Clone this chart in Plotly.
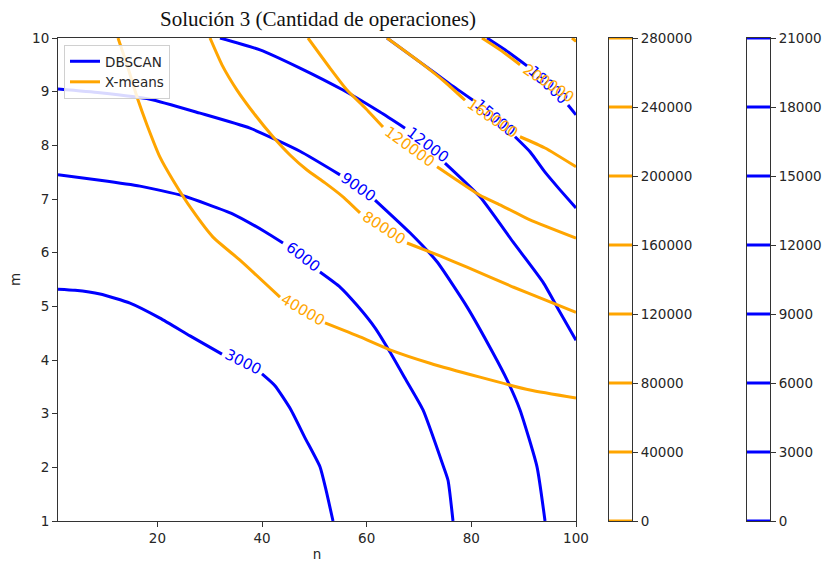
import plotly.graph_objects as go

# ---------------- data ----------------
DBSCAN_LEVELS = [3000, 6000, 9000, 12000, 15000, 18000]
XMEANS_LEVELS = [40000, 80000, 120000, 160000, 200000, 240000]
DBSCAN_CBAR_TICKS = [0, 3000, 6000, 9000, 12000, 15000, 18000, 21000]
XMEANS_CBAR_TICKS = [0, 40000, 80000, 120000, 160000, 200000, 240000, 280000]

# DBSCAN contour lines (n, m); None marks the gap left for the inline label
DB3000_N = [1, 4.25, 9.03, 14.76, 20.49, 26.23, 32.34, None, 39.99, 42.47, 45.53, 48.21, 51.07, 52.22, 53.56]
DB3000_M = [5.32, 5.30, 5.23, 5.06, 4.78, 4.45, 4.11, None, 3.74, 3.52, 3.07, 2.55, 2.01, 1.58, 1.0]
DB6000_N = [1, 9.03, 16.67, 24.89, 34.45, 40.56, 44.00, None, 51.07, 54.90, 58.15, 61.59, 64.45, 67.32, 70.76, 74.58, 75.54, 76.49]
DB6000_M = [7.45, 7.35, 7.24, 7.06, 6.72, 6.39, 6.18, None, 5.64, 5.36, 5.02, 4.60, 4.15, 3.66, 3.07, 2.04, 1.76, 1.0]
DB9000_N = [1, 9.03, 18.58, 28.14, 37.70, 47.25, 54.90, None, 61.59, 68.27, 73.44, 79.17, 84.14, 86.81, 89.30, 92.55, 94.08]
DB9000_M = [9.05, 8.98, 8.86, 8.60, 8.32, 7.89, 7.45, None, 6.98, 6.37, 5.83, 4.99, 4.13, 3.63, 3.07, 2.01, 1.0]
DB12000_N = [31.96, 39.61, 47.25, 55.47, 62.54, 67.32, None, 74.96, 81.65, 87.96, 93.69, 96.94, 100]
DB12000_M = [10.0, 9.78, 9.44, 9.03, 8.62, 8.32, None, 7.67, 7.04, 6.20, 5.45, 4.89, 4.37]
DB15000_N = [63.88, 70.19, 75.92, 80.31, None, 88.34, 91.21, 94.08, 96.94, 100]
DB15000_M = [10.0, 9.55, 9.14, 8.84, None, 8.16, 7.88, 7.50, 7.17, 6.83]
DB18000_N = [82.99, 86.43, 90.64, None, 98.47, 100]
DB18000_M = [10.0, 9.78, 9.48, None, 8.75, 8.57]

# X-means contour lines (n, m)
XM40000_N = [12.47, 14.19, 16.10, 18.01, 20.49, 22.98, 26.61, 30.62, 35.78, 43.43, None, 52.03, 58.72, 64.45, 72.10, 81.65, 91.21, 100]
XM40000_M = [10.0, 9.50, 8.90, 8.38, 7.78, 7.35, 6.80, 6.29, 5.86, 5.17, None, 4.69, 4.43, 4.19, 3.94, 3.68, 3.44, 3.29]
XM80000_N = [30.05, 32.34, 35.21, 38.65, 42.09, 45.34, 48.59, 52.03, 55.47, 58.72, None, 67.70, 74.01, 79.17, 87.96, 94.08, 100]
XM80000_M = [10.0, 9.50, 9.03, 8.57, 8.16, 7.82, 7.54, 7.30, 7.04, 6.74, None, 6.18, 5.94, 5.73, 5.36, 5.12, 4.89]
XM120000_N = [48.78, 52.98, 56.23, 59.67, 63.11, None, 73.44, 77.26, 81.65, 85.48, 91.21, 100]
XM120000_M = [10.0, 9.44, 9.03, 8.70, 8.34, None, 7.60, 7.35, 7.07, 6.89, 6.61, 6.27]
XM160000_N = [63.88, 70.19, 74.96, 78.79, None, 89.30, 94.08, 100]
XM160000_M = [10.0, 9.55, 9.18, 8.84, None, 8.16, 7.95, 7.60]
XM200000_N = [82.03, 85.48, 89.30]
XM200000_M = [10.0, 9.78, 9.50]
XM240000_N = [99.24, 100]
XM240000_M = [10.0, 9.94]

# inline label anchor points (n, m) and their rotation (deg)
DB_LABEL_N = [36.36, 47.82, 58.34, 71.71, 84.52, 94.65]
DB_LABEL_M = [3.96, 5.92, 7.22, 8.01, 8.51, 9.12]
DB_LABEL_ANGLE = [27, 38, 35, 37, 41, 43]
XM_LABEL_N = [47.82, 63.30, 68.27, 83.95, 94.65]
XM_LABEL_M = [4.93, 6.46, 7.97, 8.51, 9.16]
XM_LABEL_ANGLE = [30, 33, 36, 34, 33]

# ---------------- styling ----------------
W, H = 830, 565
BLUE = "#0000ff"
ORANGE = "#ffa500"
AX = "#333333"
FONT = "DejaVu Sans"


def fx(px):
    return px / W


def fy(py):
    return 1 - py / H


fig = go.Figure()

db_lines = [(DB3000_N, DB3000_M), (DB6000_N, DB6000_M), (DB9000_N, DB9000_M),
            (DB12000_N, DB12000_M), (DB15000_N, DB15000_M), (DB18000_N, DB18000_M)]
xm_lines = [(XM40000_N, XM40000_M), (XM80000_N, XM80000_M), (XM120000_N, XM120000_M),
            (XM160000_N, XM160000_M), (XM200000_N, XM200000_M), (XM240000_N, XM240000_M)]

for i, (ns, ms) in enumerate(db_lines):
    fig.add_trace(go.Scatter(x=ns, y=ms, mode="lines", connectgaps=False,
                             line=dict(color=BLUE, width=3, shape="spline", smoothing=0.5),
                             name="DBSCAN", legendgroup="db", showlegend=(i == 0),
                             hoverinfo="skip"))
for i, (ns, ms) in enumerate(xm_lines):
    fig.add_trace(go.Scatter(x=ns, y=ms, mode="lines", connectgaps=False,
                             line=dict(color=ORANGE, width=3, shape="spline", smoothing=0.5),
                             name="X-means", legendgroup="xm", showlegend=(i == 0),
                             hoverinfo="skip"))

annotations = []
for lvl, n, m, a in zip(DBSCAN_LEVELS, DB_LABEL_N, DB_LABEL_M, DB_LABEL_ANGLE):
    annotations.append(dict(x=n, y=m, xref="x", yref="y", text=str(lvl), showarrow=False,
                            textangle=a, font=dict(family=FONT, size=15, color=BLUE)))
for lvl, n, m, a in zip(XMEANS_LEVELS, XM_LABEL_N, XM_LABEL_M, XM_LABEL_ANGLE):
    annotations.append(dict(x=n, y=m, xref="x", yref="y", text=str(lvl), showarrow=False,
                            textangle=a, font=dict(family=FONT, size=15, color=ORANGE)))


# colorbar-like axes with level lines
def bar_lines(levels):
    xs, ys = [], []
    for l in levels:
        xs += [0, 1, None]
        ys += [l, l, None]
    return xs, ys


xs, ys = bar_lines(XMEANS_CBAR_TICKS)
fig.add_trace(go.Scatter(x=xs, y=ys, mode="lines", line=dict(color=ORANGE, width=3),
                         xaxis="x2", yaxis="y2", showlegend=False, hoverinfo="skip"))
xs, ys = bar_lines(DBSCAN_CBAR_TICKS)
fig.add_trace(go.Scatter(x=xs, y=ys, mode="lines", line=dict(color=BLUE, width=3),
                         xaxis="x3", yaxis="y3", showlegend=False, hoverinfo="skip"))

tickfont = dict(family=FONT, size=13.5, color="#262626")
common_ax = dict(showline=True, linecolor=AX, linewidth=1, mirror=True, ticks="outside",
                 ticklen=5, tickwidth=1, tickcolor=AX, showgrid=False, zeroline=False,
                 tickfont=tickfont, automargin=False)

Y_DOM = [fy(521), fy(38)]

fig.update_layout(
    width=W, height=H,
    margin=dict(l=0, r=0, t=0, b=0),
    paper_bgcolor="white", plot_bgcolor="white",
    font=dict(family=FONT, color="#262626"),
    title=dict(text="Solución 3 (Cantidad de operaciones)", x=fx(318), y=fy(19),
               xanchor="center", yanchor="middle", xref="paper", yref="paper",
               font=dict(family="Liberation Serif", size=21, color="#111111")),
    xaxis=dict(domain=[fx(58), fx(576)], range=[1, 100], tickvals=[20, 40, 60, 80, 100],
               title=dict(text="n", standoff=4, font=dict(family=FONT, size=13.5)), **common_ax),
    yaxis=dict(domain=Y_DOM, range=[1, 10], tickvals=list(range(1, 11)),
               title=dict(text="m", standoff=8, font=dict(family=FONT, size=13.5)), **common_ax),
    xaxis2=dict(domain=[fx(609), fx(632)], range=[0, 1], anchor="y2", showticklabels=False,
                showline=True, linecolor=AX, linewidth=1, mirror=True, ticks="",
                showgrid=False, zeroline=False),
    yaxis2=dict(domain=Y_DOM, range=[0, 280000], anchor="x2", side="right",
                tickvals=XMEANS_CBAR_TICKS, ticktext=[str(v) for v in XMEANS_CBAR_TICKS],
                **common_ax),
    xaxis3=dict(domain=[fx(747), fx(770)], range=[0, 1], anchor="y3", showticklabels=False,
                showline=True, linecolor=AX, linewidth=1, mirror=True, ticks="",
                showgrid=False, zeroline=False),
    yaxis3=dict(domain=Y_DOM, range=[0, 21000], anchor="x3", side="right",
                tickvals=DBSCAN_CBAR_TICKS, ticktext=[str(v) for v in DBSCAN_CBAR_TICKS],
                **common_ax),
    legend=dict(x=fx(64), y=fy(45), xanchor="left", yanchor="top",
                bgcolor="rgba(255,255,255,0.85)", bordercolor="#d0d0d0", borderwidth=1,
                font=dict(family=FONT, size=13.5, color="#262626"),
                tracegroupgap=0, itemwidth=30),
    annotations=annotations,
    showlegend=True,
)

fig.write_html("out.html")
